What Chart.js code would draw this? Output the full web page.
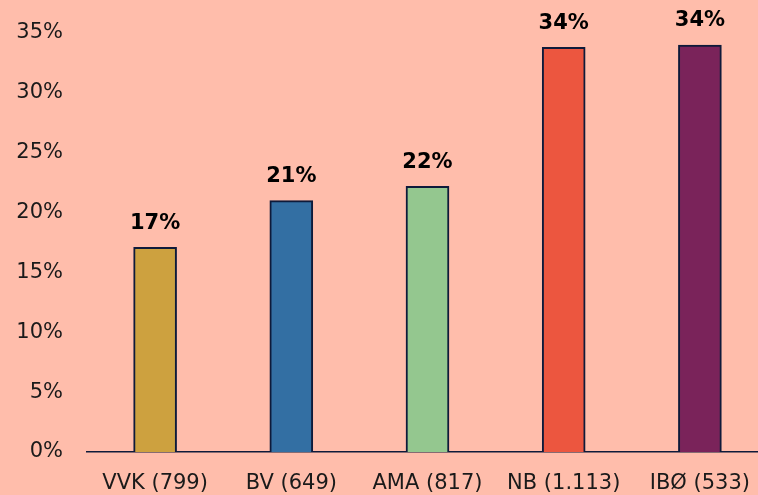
<!DOCTYPE html>
<html>
<head>
<meta charset="utf-8">
<script src="https://cdn.jsdelivr.net/npm/chart.js@4"></script>
<style>
  html, body { margin: 0; padding: 0; background: #FFBDAB; overflow: hidden; }
  #wrap { width: 758px; height: 495px; overflow: hidden; }
</style>
</head>
<body>
<div id="wrap"><canvas id="c" width="768" height="495"></canvas></div>
<script>
const categories = ['VVK (799)', 'BV (649)', 'AMA (817)', 'NB (1.113)', 'IBØ (533)'];
const values = [17.1, 21.0, 22.2, 33.8, 34.0];
const valueLabels = ['17%', '21%', '22%', '34%', '34%'];
const barColors = ['#CDA13F', '#336FA3', '#94C78F', '#EC563F', '#7A235A'];
const yTicks = [0, 5, 10, 15, 20, 25, 30, 35];

const navy = '#0E1A3A';

// draws the bold percentage above each bar
const valueLabelPlugin = {
  id: 'valueLabels',
  afterDatasetsDraw(chart) {
    const ctx = chart.ctx;
    const meta = chart.getDatasetMeta(0);
    ctx.save();
    ctx.font = 'bold 21px "DejaVu Sans"';
    ctx.fillStyle = '#000';
    ctx.textAlign = 'center';
    ctx.textBaseline = 'middle';
    meta.data.forEach((bar, i) => {
      ctx.fillText(valueLabels[i], bar.x, bar.y - 24);
    });
    ctx.restore();
  }
};

new Chart(document.getElementById('c'), {
  type: 'bar',
  data: {
    labels: categories,
    datasets: [{
      data: values,
      backgroundColor: barColors,
      borderColor: navy,
      borderWidth: 2,
      borderSkipped: 'bottom',
      barThickness: 43
    }]
  },
  options: {
    responsive: false,
    animation: false,
    layout: { padding: { top: 33, right: 0, bottom: 0, left: 0 } },
    plugins: { legend: { display: false }, tooltip: { enabled: false } },
    scales: {
      x: {
        grid: { display: false },
        border: { display: true, color: navy, width: 1.5 },
        ticks: {
          color: '#1a1a1a',
          font: { family: '"DejaVu Sans"', size: 21 },
          padding: 11,
          maxRotation: 0
        },
        afterFit(scale) { scale.height = 43; }
      },
      y: {
        min: 0,
        max: 35,
        grid: { display: false },
        border: { display: false },
        afterBuildTicks(scale) { scale.ticks = yTicks.map(v => ({ value: v })); },
        ticks: {
          color: '#1a1a1a',
          font: { family: '"DejaVu Sans"', size: 21 },
          padding: 16,
          callback: v => v + '%'
        },
        afterFit(scale) { scale.width = 87; }
      }
    }
  },
  plugins: [valueLabelPlugin]
});
</script>
</body>
</html>
